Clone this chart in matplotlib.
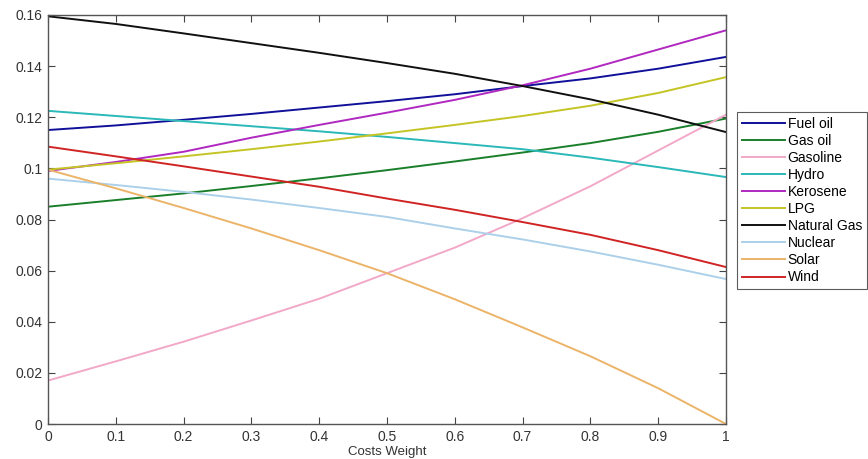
import numpy as np
import matplotlib
matplotlib.use("Agg")
import matplotlib.pyplot as plt

# data
weights = [0.0, 0.1, 0.2, 0.3, 0.4, 0.5, 0.6, 0.7, 0.8, 0.9, 1.0]

fuel_oil = [0.115, 0.1168, 0.119, 0.1213, 0.1238, 0.1263, 0.129, 0.1322, 0.1352, 0.139, 0.1436]
gas_oil = [0.085, 0.0876, 0.0902, 0.0931, 0.0961, 0.0993, 0.1027, 0.1062, 0.1099, 0.1143, 0.1195]
gasoline = [0.017, 0.0245, 0.0322, 0.0405, 0.049, 0.059, 0.069, 0.0805, 0.093, 0.107, 0.121]
hydro = [0.1225, 0.1205, 0.1185, 0.1165, 0.1145, 0.1123, 0.1099, 0.1075, 0.1042, 0.1005, 0.0966]
kerosene = [0.099, 0.1025, 0.1065, 0.112, 0.117, 0.1218, 0.1268, 0.1325, 0.139, 0.1465, 0.154]
lpg = [0.0995, 0.102, 0.1047, 0.1075, 0.1105, 0.1137, 0.117, 0.1205, 0.1245, 0.1295, 0.1357]
natural_gas = [0.1595, 0.1565, 0.1528, 0.149, 0.1452, 0.1412, 0.137, 0.1322, 0.127, 0.121, 0.1142]
nuclear = [0.096, 0.0935, 0.0908, 0.0878, 0.0845, 0.081, 0.0765, 0.0722, 0.0675, 0.0623, 0.0567]
solar = [0.0995, 0.0922, 0.0845, 0.0765, 0.068, 0.059, 0.0488, 0.0378, 0.0265, 0.014, 0.0]
wind = [0.1085, 0.1047, 0.1008, 0.0968, 0.0928, 0.0882, 0.0838, 0.079, 0.074, 0.068, 0.0614]

names = ["Fuel oil", "Gas oil", "Gasoline", "Hydro", "Kerosene", "LPG",
         "Natural Gas", "Nuclear", "Solar", "Wind"]
series = [fuel_oil, gas_oil, gasoline, hydro, kerosene, lpg,
          natural_gas, nuclear, solar, wind]
colors = ["#10109a", "#1a7f2a", "#f2a8c8", "#2ab8b8", "#b028c0", "#c4c424",
          "#101010", "#acd0ea", "#ebb468", "#d02424"]

plt.rcParams['font.family'] = ['Liberation Sans', 'DejaVu Sans']

fig = plt.figure(figsize=(8.68, 4.59), dpi=100)
ax = fig.add_axes([48 / 868, 35 / 459, 678 / 868, 409 / 459])

for name, vals, c in zip(names, series, colors):
    ax.plot(weights, vals, color=c, lw=1.4, label=name)

ax.set_xlim(0, 1)
ax.set_ylim(0, 0.16)
ax.set_xticks(np.arange(0, 1.01, 0.1))
ax.set_xticklabels(["0", "0.1", "0.2", "0.3", "0.4", "0.5", "0.6", "0.7", "0.8", "0.9", "1"])
ax.set_yticks(np.arange(0, 0.161, 0.02))
ax.set_yticklabels(["0", "0.02", "0.04", "0.06", "0.08", "0.1", "0.12", "0.14", "0.16"])
ax.tick_params(direction="in", top=True, right=True, length=5, labelsize=10,
               color="#444444", labelcolor="#333333", pad=4)
for s in ax.spines.values():
    s.set_color("#555555")
    s.set_linewidth(1.0)
ax.set_xlabel("Costs Weight", fontsize=9.5, color="#333333", labelpad=2)

leg = ax.legend(loc="upper left", bbox_to_anchor=(737 / 868, 1 - 112 / 459),
                bbox_transform=fig.transFigure, fontsize=10, frameon=True,
                fancybox=False, edgecolor="#333333", handlelength=3.1,
                labelspacing=0.22, handletextpad=0.2, borderpad=0.35,
                borderaxespad=0)
leg.get_frame().set_linewidth(0.8)

fig.savefig("out.png", dpi=100)
